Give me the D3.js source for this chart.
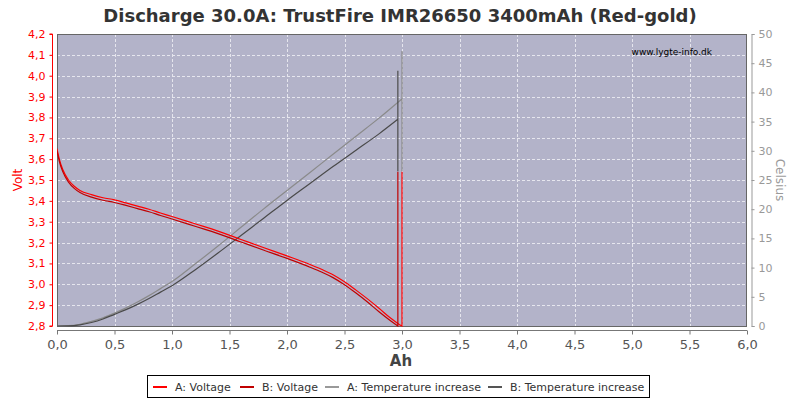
<!DOCTYPE html>
<html><head><meta charset="utf-8">
<script src="https://cdn.jsdelivr.net/npm/d3@7"></script>
<style>body{margin:0;background:#fff}svg{display:block;font-family:"DejaVu Sans",Verdana,sans-serif}</style>
</head><body><svg id="c" width="800" height="400"></svg>
<script>
const title = "Discharge 30.0A: TrustFire IMR26650 3400mAh (Red-gold)";
const xTicks = [0,0.5,1,1.5,2,2.5,3,3.5,4,4.5,5,5.5,6];
const vTicks = [2.8,2.9,3.0,3.1,3.2,3.3,3.4,3.5,3.6,3.7,3.8,3.9,4.0,4.1,4.2];
const tTicks = [0,5,10,15,20,25,30,35,40,45,50];
const legendNames = ["A: Voltage","B: Voltage","A: Temperature increase","B: Temperature increase"];
const voltA = [[0,3.65],[0.02,3.60],[0.05,3.55],[0.1,3.50],[0.15,3.47],[0.2,3.45],[0.3,3.43],[0.4,3.415],[0.5,3.405],[0.6,3.39],[0.7,3.375],[0.8,3.36],[0.9,3.342],[1.0,3.325],[1.2,3.29],[1.4,3.255],[1.6,3.215],[1.8,3.175],[2.0,3.136],[2.2,3.095],[2.3,3.072],[2.4,3.046],[2.5,3.012],[2.6,2.972],[2.7,2.93],[2.8,2.885],[2.9,2.838],[2.97,2.81],[3.0,2.80],[3.0,3.54]];
const voltB = [[0,3.64],[0.02,3.59],[0.05,3.54],[0.1,3.49],[0.15,3.46],[0.2,3.44],[0.3,3.418],[0.4,3.403],[0.5,3.392],[0.6,3.378],[0.7,3.363],[0.8,3.348],[0.9,3.33],[1.0,3.313],[1.2,3.278],[1.4,3.243],[1.6,3.203],[1.8,3.163],[2.0,3.124],[2.2,3.082],[2.3,3.059],[2.4,3.032],[2.5,2.998],[2.6,2.958],[2.7,2.915],[2.8,2.868],[2.9,2.825],[2.964,2.80],[2.964,3.54]];
const tempA = [[0,0],[0.1,0.05],[0.2,0.3],[0.3,0.8],[0.4,1.4],[0.5,2.2],[0.6,3.1],[0.7,4.1],[0.8,5.2],[0.9,6.4],[1.0,7.6],[1.2,10.6],[1.4,13.7],[1.6,16.9],[1.8,20.1],[2.0,23.2],[2.2,26.3],[2.4,29.4],[2.6,32.5],[2.8,35.6],[3.0,38.9],[3.0,47.1],[3.0,26.5]];
const tempB = [[0,0],[0.1,0.02],[0.2,0.2],[0.3,0.6],[0.4,1.2],[0.5,2.0],[0.6,2.8],[0.7,3.7],[0.8,4.7],[0.9,5.8],[1.0,6.9],[1.2,9.6],[1.4,12.5],[1.6,15.5],[1.8,18.5],[2.0,21.5],[2.2,24.4],[2.4,27.3],[2.6,30.1],[2.8,32.9],[2.964,35.4],[2.964,43.7],[2.964,26.5]];

const svg = d3.select("#c");
const L=57,R=747,T=34,B=326;
const x = d3.scaleLinear().domain([0,6]).range([L,R]);
const yV = d3.scaleLinear().domain([2.8,4.2]).range([B,T]);
const yT = d3.scaleLinear().domain([0,50]).range([B,T]);
const fmt = d3.format(".1f"), comma = v => fmt(v).replace(".",",");

svg.append("text").attr("x",400).attr("y",22).attr("text-anchor","middle")
  .attr("font-size",18).attr("font-weight","bold").attr("fill","#333").text(title);

svg.append("rect").attr("x",L).attr("y",T).attr("width",R-L).attr("height",B-T).attr("fill","#b3b3c9");
const g = svg.append("g");
g.selectAll(".gx").data(xTicks.slice(1,-1)).join("line").attr("x1",d=>Math.round(x(d))+0.5).attr("x2",d=>Math.round(x(d))+0.5)
  .attr("y1",T).attr("y2",B).attr("stroke","#e6e6ee").attr("stroke-dasharray","3,2");
g.selectAll(".gy").data(vTicks.slice(1,-1)).join("line").attr("y1",d=>Math.round(yV(d))+0.5).attr("y2",d=>Math.round(yV(d))+0.5)
  .attr("x1",L).attr("x2",R).attr("stroke","#e6e6ee").attr("stroke-dasharray","3,2");
svg.append("rect").attr("x",L+0.5).attr("y",T+0.5).attr("width",R-L-1).attr("height",B-T).attr("fill","none").attr("stroke","#666");

svg.append("text").attr("x",712).attr("y",55).attr("text-anchor","end").attr("font-size",9).attr("fill","#000").text("www.lygte-info.dk");

const clip = svg.append("clipPath").attr("id","cp").append("rect").attr("x",L).attr("y",T).attr("width",R-L).attr("height",B-T+1);
function drawSeries(data, ys, color){
  let k = data.length-1;
  while (k>0 && data[k-1][0]===data[k][0]) k--;
  const main = data.slice(0,k+1), tail = data.slice(k);
  const curve = d3.line().x(d=>x(d[0])).y(d=>ys(d[1])).curve(d3.curveMonotoneX);
  const straight = d3.line().x(d=>x(d[0])).y(d=>ys(d[1]));
  svg.append("path").attr("d",curve(main)+straight(tail).replace(/^M/,"L"))
    .attr("fill","none").attr("stroke",color).attr("stroke-width",1.2).attr("clip-path","url(#cp)");
}
drawSeries(tempA, yT, "#8a8a8a");
drawSeries(tempB, yT, "#4a4a4a");
drawSeries(voltA, yV, "#ff0000");
drawSeries(voltB, yV, "#c00000");

// left axis
const la = svg.append("g").attr("transform","translate(52.5,0)")
  .call(d3.axisLeft(yV).tickValues(vTicks).tickFormat(comma).tickSize(3).tickPadding(4));
la.selectAll("path,line").attr("stroke","#ff0000");
la.selectAll("text").attr("fill","#ff0000").attr("font-size",11).attr("font-family","DejaVu Sans");
la.select(".domain").attr("d",`M-3,${T}H0V${B}H-3`);

// right axis
const ra = svg.append("g").attr("transform","translate(751.5,0)")
  .call(d3.axisRight(yT).tickValues(tTicks).tickSize(3).tickPadding(4));
ra.selectAll("path,line").attr("stroke","#999");
ra.selectAll("text").attr("fill","#999").attr("font-size",11).attr("font-family","DejaVu Sans");

// bottom axis
const ba = svg.append("g").attr("transform","translate(0,330.5)")
  .call(d3.axisBottom(x).tickValues(xTicks).tickFormat(comma).tickSize(4).tickPadding(5));
ba.selectAll("path,line").attr("stroke","#777");
ba.selectAll("text").attr("fill","#555").attr("font-size",13).attr("font-family","DejaVu Sans");
ba.select(".domain").attr("d",`M${L},0H${R}`);

svg.append("text").attr("x",401).attr("y",366).attr("text-anchor","middle").attr("font-size",15).attr("font-weight","bold").attr("fill","#444").text("Ah");
svg.append("text").attr("transform","translate(22,180) rotate(-90)").attr("text-anchor","middle").attr("font-size",12).attr("fill","#ff0000").text("Volt");
svg.append("text").attr("transform","translate(776,180) rotate(90)").attr("text-anchor","middle").attr("font-size",12).attr("fill","#999").text("Celsius");

// legend
const lg = svg.append("g");
lg.append("rect").attr("x",147.5).attr("y",375.5).attr("width",502).attr("height",22).attr("fill","#fff").attr("stroke","#000");
const lcol = ["#ff0000","#c00000","#999999","#555555"];
const lx = [153,240,325,488];
legendNames.forEach((n,i)=>{
  lg.append("line").attr("x1",lx[i]).attr("x2",lx[i]+14).attr("y1",387).attr("y2",387).attr("stroke",lcol[i]).attr("stroke-width",2);
  lg.append("text").attr("x",lx[i]+22).attr("y",391).attr("font-size",11).attr("fill","#333").text(n);
});
</script></body></html>
